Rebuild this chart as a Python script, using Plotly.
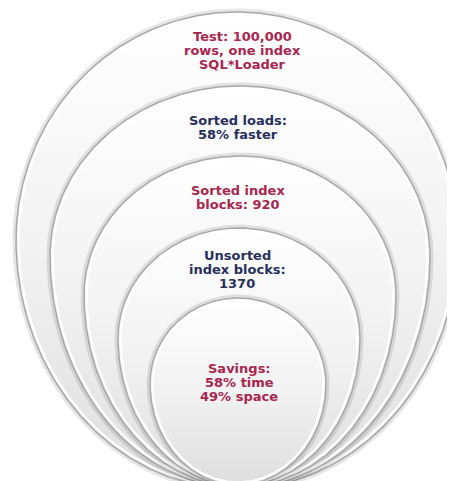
import numpy as np
import plotly.graph_objects as go

# ---- content ----
ring_labels = [
    ["Test: 100,000", "rows, one index", "SQL*Loader"],
    ["Sorted loads:", "58% faster"],
    ["Sorted index", "blocks: 920"],
    ["Unsorted", "index blocks:", "1370"],
    ["Savings:", "58% time", "49% space"],
]
label_kind = ["red", "blue", "red", "blue", "red"]

# ---- layout / geometry (pixel space, y down) ----
ring_cx = [229, 232, 232, 231, 230]
ring_top = [4, 78, 148, 220, 290]
ring_mid = [232, 248, 287, 330, 376]
ring_bottom = [481, 480, 479, 478, 477]
ring_rx = [221, 190, 156, 121, 88]
text_x = [234, 230, 230, 229, 231]
text_y0 = [28, 112, 182, 247, 360]
line_step = 14.3
palette = {"red": "#a8264f", "blue": "#27305c"}
W, H = 455, 481
EXP = 2.0


def ring_path(cx, top, mid, bottom, rx, inset=0.0, n=400):
    t = np.linspace(0, 2 * np.pi, n)
    c, s = np.cos(t), np.sin(t)
    p = 2.0 / EXP
    xs = cx + (rx - inset) * np.sign(c) * np.abs(c) ** p
    ry = np.where(s < 0, mid - top, bottom - mid) - inset
    ys = mid + ry * np.sign(s) * np.abs(s) ** p
    return xs, ys


fig = go.Figure()
for i in range(len(ring_labels)):
    cx, tp, md, bt, rx = ring_cx[i], ring_top[i], ring_mid[i], ring_bottom[i], ring_rx[i]
    # soft outer shadow
    xs, ys = ring_path(cx, tp, md, bt, rx, inset=-1.5)
    fig.add_trace(go.Scatter(x=xs, y=ys, mode="lines",
                             line=dict(color="rgba(0,0,0,0.10)", width=4),
                             hoverinfo="skip", showlegend=False))
    # body with vertical gradient
    xs, ys = ring_path(cx, tp, md, bt, rx)
    fig.add_trace(go.Scatter(x=xs, y=ys, mode="lines", fill="toself",
                             fillgradient=dict(type="vertical",
                                               colorscale=[[0, "#dedede"], [0.5, "#f2f2f2"], [1, "#ffffff"]],
                                               start=bt, stop=tp),
                             line=dict(color="#a8a8a8", width=1.5),
                             hoverinfo="skip", showlegend=False))
    # inner highlight
    xs, ys = ring_path(cx, tp, md, bt, rx, inset=2.6)
    fig.add_trace(go.Scatter(x=xs, y=ys, mode="lines",
                             line=dict(color="#ffffff", width=2.2),
                             hoverinfo="skip", showlegend=False))

annotations = []
for i, lines in enumerate(ring_labels):
    for j, txt in enumerate(lines):
        annotations.append(dict(
            x=text_x[i], y=text_y0[i] + j * line_step, xref="x", yref="y",
            text=txt, showarrow=False, xanchor="center", yanchor="middle",
            font=dict(family="DejaVu Sans", size=13, color=palette[label_kind[i]], weight="bold"),
        ))

fig.update_layout(
    width=W, height=H, margin=dict(l=0, r=0, t=0, b=0),
    paper_bgcolor="white", plot_bgcolor="white",
    xaxis=dict(range=[0, W], visible=False, fixedrange=True),
    yaxis=dict(range=[H, 0], visible=False, fixedrange=True),
    annotations=annotations, showlegend=False,
)
fig.write_html("out.html")
